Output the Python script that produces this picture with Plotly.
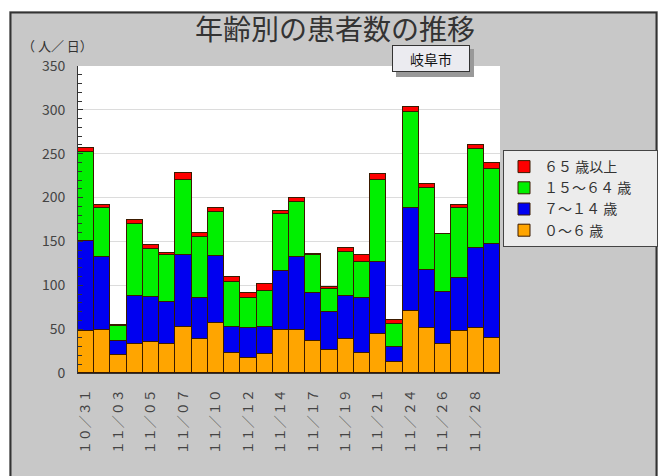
import plotly.graph_objects as go

dates = ["10/31", "11/01", "11/03", "11/04", "11/05", "11/06", "11/07", "11/08",
         "11/10", "11/11", "11/12", "11/13", "11/14", "11/15", "11/17", "11/18",
         "11/19", "11/20", "11/21", "11/22", "11/24", "11/25", "11/26", "11/27",
         "11/28", "11/29"]
tick_dates = ["10/31", "11/03", "11/05", "11/07", "11/10", "11/12", "11/14",
              "11/17", "11/19", "11/21", "11/24", "11/26", "11/28"]
tick_text = ["１０／３１", "１１／０３", "１１／０５", "１１／０７", "１１／１０",
             "１１／１２", "１１／１４", "１１／１７", "１１／１９", "１１／２１",
             "１１／２４", "１１／２６", "１１／２８"]

age_0_6 = [48, 49, 20, 33, 35, 33, 53, 39, 57, 23, 17, 22, 49, 49, 36, 26,
           39, 23, 45, 13, 71, 51, 33, 48, 51, 40]
age_7_14 = [103, 83, 16, 55, 52, 48, 82, 47, 76, 30, 34, 31, 67, 83, 55, 43,
            49, 62, 81, 17, 117, 66, 59, 60, 91, 107]
age_15_64 = [101, 56, 18, 82, 54, 54, 85, 69, 50, 51, 35, 41, 65, 63, 44, 27,
             50, 41, 94, 26, 110, 94, 66, 80, 113, 86]
age_65 = [5, 3, 1, 5, 5, 2, 8, 5, 5, 6, 5, 7, 4, 5, 1, 2,
          4, 8, 7, 4, 5, 4, 1, 4, 5, 6]

series = [
    ("０～６ 歳", age_0_6, "#ffa500"),
    ("７～１４ 歳", age_7_14, "#0000f0"),
    ("１５～６４ 歳", age_15_64, "#00f000"),
    ("６５ 歳以上", age_65, "#ff0000"),
]
PAD = "\u3000\u00a0\u00a0"

FONT = "Noto Sans CJK JP"
OFF = 8  # page body margin
W, H = 666 - OFF, 476 - OFF
# plot area in page pixels
L, R, T, B = 78, 500, 66, 373


def xp(x):
    return (x - L) / (R - L)


def yp(y):
    return (B - y) / (B - T)


fig = go.Figure()
for name, vals, col in series:
    fig.add_trace(go.Bar(
        x=dates, y=vals, name=name + PAD,
        marker=dict(color=col, line=dict(color="#3a1a00", width=1)),
    ))

shapes = [
    dict(type="rect", xref="paper", yref="paper", x0=xp(0), x1=xp(670), y0=yp(11), y1=yp(0),
         fillcolor="white", line=dict(width=0), layer="below"),
    dict(type="rect", xref="paper", yref="paper", x0=xp(0), x1=xp(9), y0=yp(480), y1=yp(0),
         fillcolor="white", line=dict(width=0), layer="below"),
    dict(type="rect", xref="paper", yref="paper", x0=xp(658), x1=xp(670), y0=yp(480), y1=yp(0),
         fillcolor="white", line=dict(width=0), layer="below"),
    # panel border
    dict(type="rect", xref="paper", yref="paper", x0=xp(10.5), x1=xp(656.5), y0=yp(485), y1=yp(12.5),
         fillcolor="rgba(0,0,0,0)", line=dict(color="#333333", width=2), layer="below"),
    # city label shadow
    dict(type="rect", xref="paper", yref="paper", x0=xp(396), x1=xp(474), y0=yp(77), y1=yp(49),
         fillcolor="#999999", line=dict(width=0), layer="above"),
]

annotations = [
    dict(text="年齢別の患者数の推移", xref="paper", yref="paper", x=xp(335), y=yp(28),
         xanchor="center", yanchor="middle", showarrow=False,
         font=dict(family=FONT, size=28, color="#333333")),
    dict(text="（ 人／ 日）", xref="paper", yref="paper", x=xp(20), y=yp(46),
         xanchor="left", yanchor="middle", showarrow=False,
         font=dict(family=FONT, size=13, color="#333333")),
    dict(text="岐阜市", xref="paper", yref="paper", x=xp(431), y=yp(58.5),
         xanchor="center", yanchor="middle", showarrow=False,
         width=74, height=23, bgcolor="#ebebf0", bordercolor="#333333", borderwidth=1,
         font=dict(family=FONT, size=14, color="#111111")),
]

fig.update_layout(
    width=W, height=H,
    margin=dict(l=L - OFF, r=W - (R - OFF), t=T - OFF, b=H - (B - OFF), autoexpand=False),
    paper_bgcolor="#c8c8c8",
    plot_bgcolor="white",
    barmode="stack",
    bargap=0,
    font=dict(family=FONT, color="#333333"),
    shapes=shapes,
    annotations=annotations,
    legend=dict(
        x=xp(503), y=yp(150), xanchor="left", yanchor="top",
        traceorder="reversed",
        bgcolor="#ececec", bordercolor="#444444", borderwidth=1,
        font=dict(family=FONT, size=14, color="#333333"),
    ),
    xaxis=dict(
        type="category",
        tickmode="array", tickvals=tick_dates, ticktext=tick_text,
        tickangle=-90,
        tickfont=dict(family=FONT, size=13, color="#444444"),
        ticks="", ticklabelstandoff=10,
        showline=True, linecolor="#333333", linewidth=1,
        showgrid=False,
    ),
    yaxis=dict(
        range=[0, 350], dtick=50,
        ticks="inside", ticklen=5, tickcolor="#333333",
        minor=dict(dtick=10, ticks="inside", ticklen=4, tickcolor="#333333", showgrid=False),
        tickfont=dict(family=FONT, size=14, color="#444444"),
        ticklabelstandoff=9,
        showline=True, linecolor="#333333", linewidth=1,
        showgrid=True, gridcolor="#dcdcdc",
        zeroline=False,
    ),
)

fig.write_html("out.html")
